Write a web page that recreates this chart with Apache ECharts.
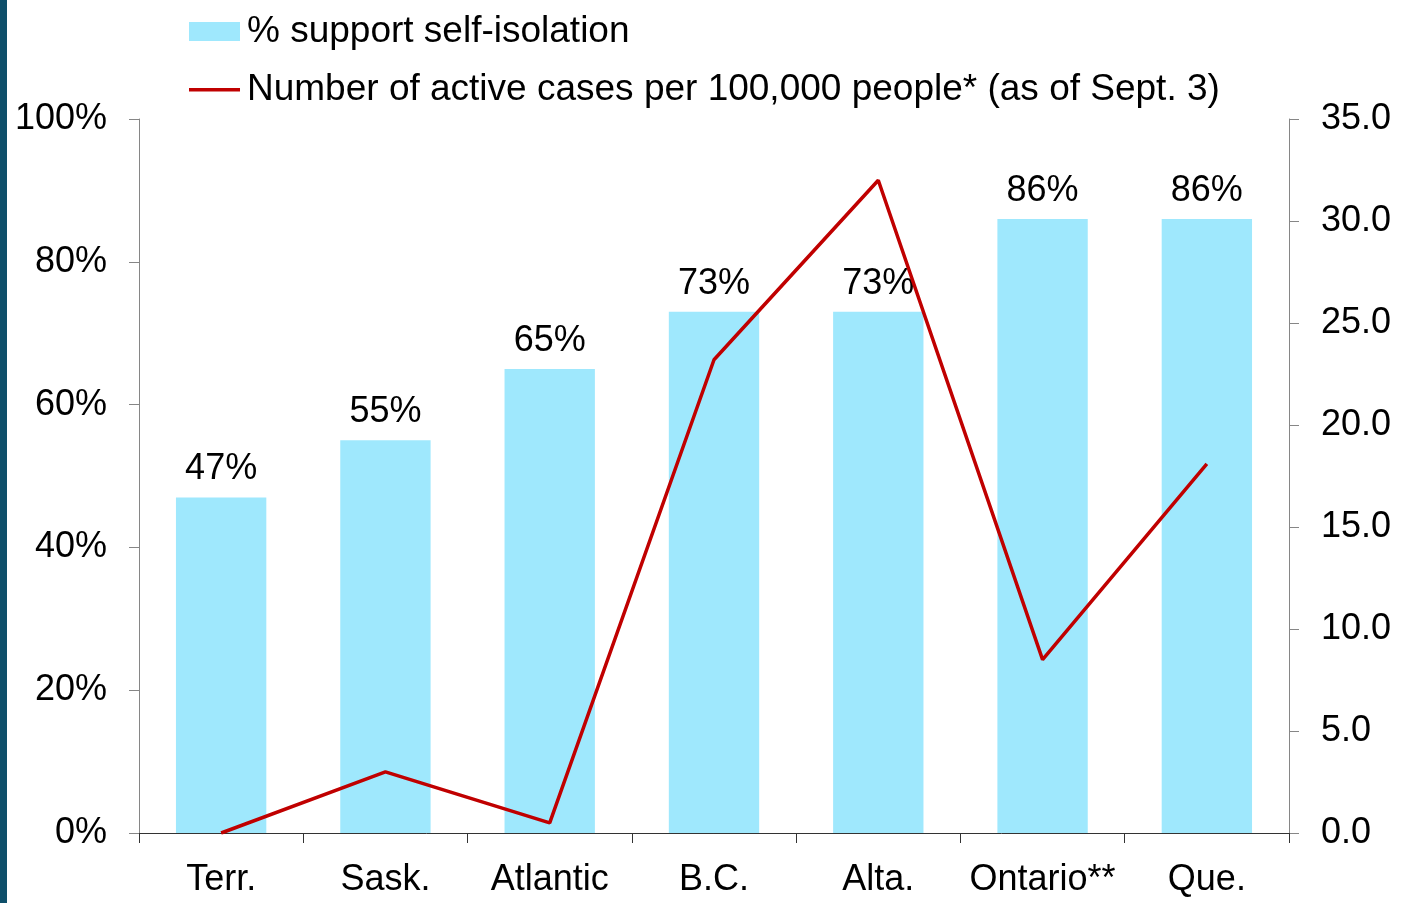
<!DOCTYPE html>
<html><head><meta charset="utf-8">
<script src="https://cdn.jsdelivr.net/npm/echarts@6/dist/echarts.min.js"></script>
<style>html,body{margin:0;padding:0;background:#fff;}#c{width:1404px;height:903px;}
#strip{position:absolute;left:0;top:0;width:7px;height:903px;background:#0e4f6a;}</style>
</head><body><div id="c"></div><div id="strip"></div>
<script>
const categories = ['Terr.', 'Sask.', 'Atlantic', 'B.C.', 'Alta.', 'Ontario**', 'Que.'];
const supportPct = [47, 55, 65, 73, 73, 86, 86];
const activeCases = [0.0, 3.0, 0.5, 23.2, 32.0, 8.5, 18.1];
const leftTicks = [0, 20, 40, 60, 80, 100];
const rightTicks = [0, 5, 10, 15, 20, 25, 30, 35];
const barName = '% support self-isolation';
const lineName = 'Number of active cases per 100,000 people* (as of Sept. 3)';

const font = 'Liberation Sans, Arial, sans-serif';
const FS = 36;
const chart = echarts.init(document.getElementById('c'));
chart.setOption({
  animation: false,
  textStyle: {fontFamily: font},
  legend: {
    orient: 'vertical', left: 189, top: 13, itemGap: 21, padding: 0,
    itemWidth: 51, itemHeight: 19,
    textStyle: {fontSize: 37, lineHeight: 36, color: '#000', fontFamily: font, padding: [0,0,0,2]},
    data: [
      {name: barName, icon: 'rect'},
      {name: lineName, icon: 'path://M0,0 M0,8 L51,8 L51,11.5 L0,11.5 Z M0,19', itemStyle: {color: '#c00000'}}
    ]
  },
  grid: {left: 139, right: 115, top: 119, bottom: 70, containLabel: false},
  xAxis: {
    type: 'category', data: categories,
    axisLine: {lineStyle: {color: '#333', width: 1}},
    axisTick: {show: true, interval: 0, length: 10, lineStyle: {color: '#333'}},
    axisLabel: {interval: 0, fontSize: FS, color: '#000', margin: 29, fontFamily: font}
  },
  yAxis: [{
    type: 'value', min: 0, max: 100, interval: 20, position: 'left',
    axisLine: {show: true, lineStyle: {color: '#868686'}},
    axisTick: {show: true, length: 10, lineStyle: {color: '#868686'}},
    splitLine: {show: false},
    axisLabel: {fontSize: FS, color: '#000', margin: 32, padding: [4,0,0,0], fontFamily: font, formatter: v => v + '%'}
  }, {
    type: 'value', min: 0, max: 35, interval: 5, position: 'right',
    axisLine: {show: true, lineStyle: {color: '#868686'}},
    axisTick: {show: true, length: 10, lineStyle: {color: '#868686'}},
    splitLine: {show: false},
    axisLabel: {fontSize: FS, color: '#000', margin: 32, padding: [4,0,0,0], fontFamily: font, formatter: v => v.toFixed(1)}
  }],
  series: [{
    name: barName, type: 'bar', data: supportPct, yAxisIndex: 0,
    barWidth: '55%', itemStyle: {color: '#9fe8fd'},
    label: {show: true, position: 'top', distance: 10, fontSize: FS, color: '#000', fontFamily: font, formatter: p => p.value + '%'}
  }, {
    name: lineName, type: 'line', data: activeCases, yAxisIndex: 1,
    showSymbol: false, symbol: 'none',
    lineStyle: {color: '#c00000', width: 3.5}, itemStyle: {color: '#c00000'}
  }]
});
</script></body></html>
